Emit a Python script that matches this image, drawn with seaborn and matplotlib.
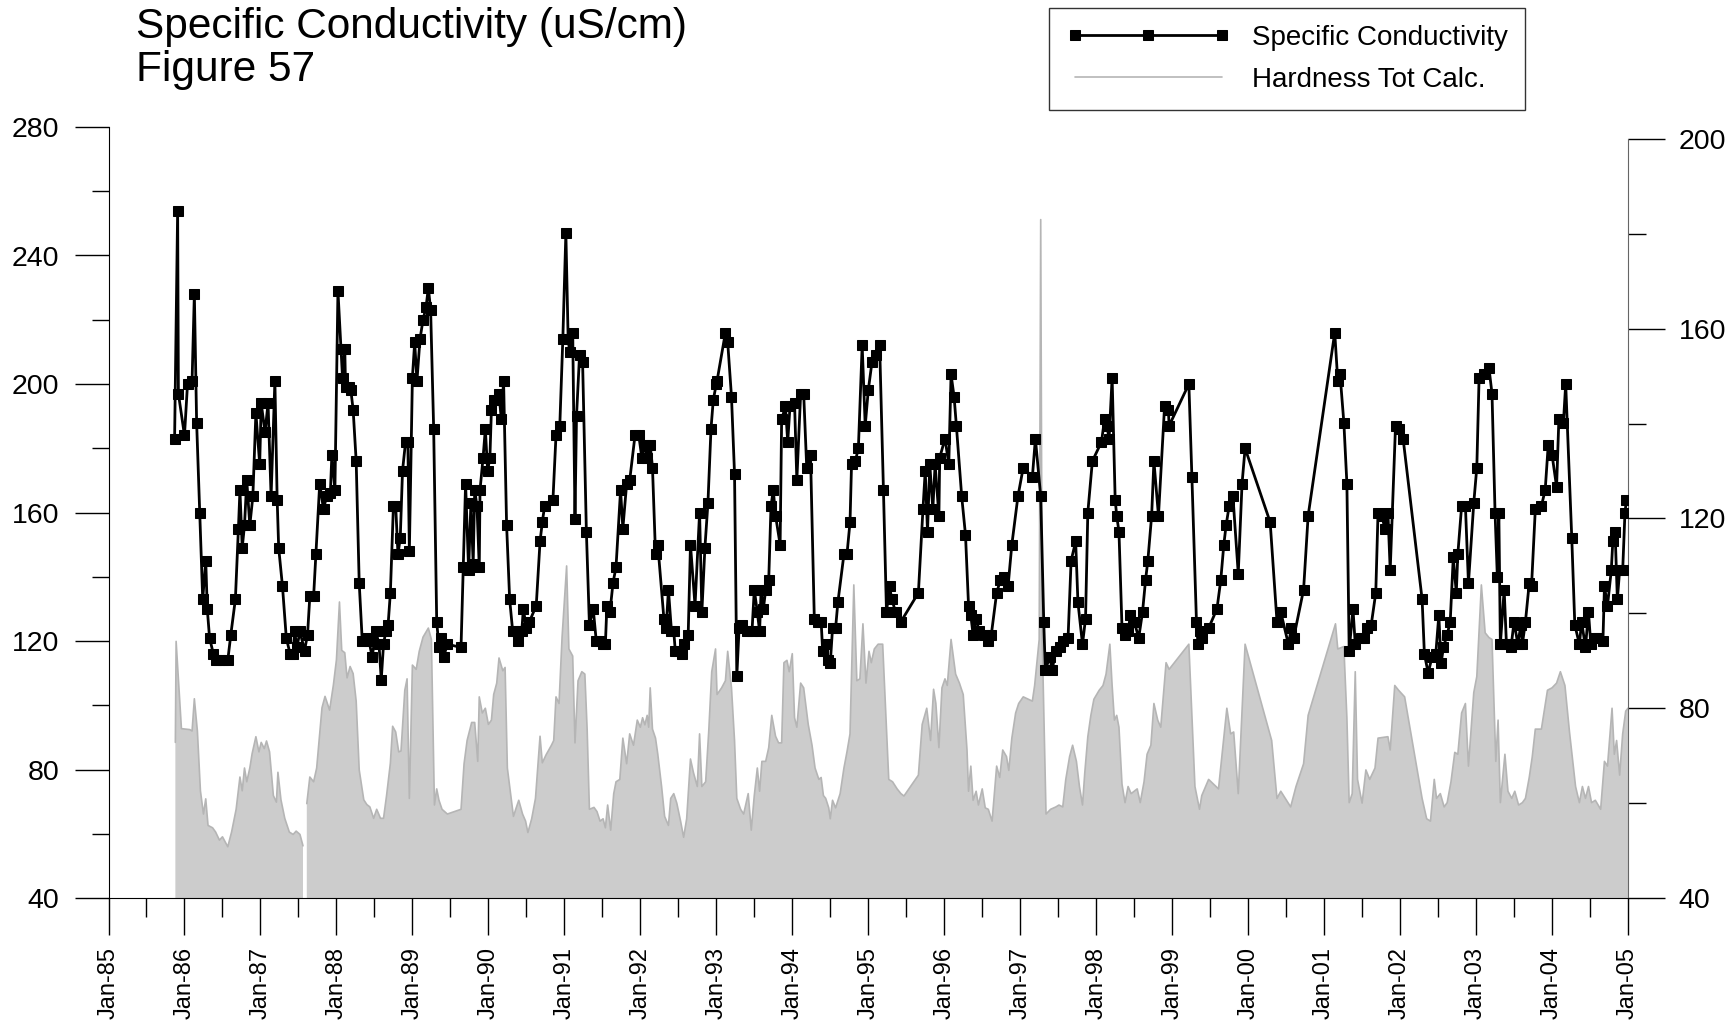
import numpy as np
import seaborn as sns
import matplotlib
matplotlib.use('Agg')
import matplotlib.pyplot as plt

# Specific conductivity (uS/cm), dates as decimal years
cond_years = [
    1985.87, 1985.91, 1985.92, 1986.00, 1986.04, 1986.10, 1986.13, 1986.16, 1986.20, 1986.24,
    1986.28, 1986.30, 1986.33, 1986.38, 1986.42, 1986.46, 1986.51, 1986.57, 1986.61, 1986.67,
    1986.71, 1986.73, 1986.76, 1986.79, 1986.82, 1986.86, 1986.90, 1986.94, 1986.99, 1987.01,
    1987.06, 1987.10, 1987.14, 1987.19, 1987.22, 1987.24, 1987.29, 1987.34, 1987.39, 1987.43,
    1987.45, 1987.48, 1987.52, 1987.58, 1987.62, 1987.65, 1987.70, 1987.73, 1987.78, 1987.83,
    1987.87, 1987.92, 1987.94, 1987.98, 1988.02, 1988.06, 1988.08, 1988.11, 1988.12, 1988.17,
    1988.19, 1988.22, 1988.26, 1988.30, 1988.34, 1988.39, 1988.43, 1988.47, 1988.52, 1988.56,
    1988.59, 1988.62, 1988.65, 1988.68, 1988.71, 1988.75, 1988.78, 1988.81, 1988.84, 1988.87,
    1988.91, 1988.94, 1988.96, 1989.00, 1989.03, 1989.06, 1989.10, 1989.14, 1989.18, 1989.21,
    1989.24, 1989.28, 1989.32, 1989.35, 1989.38, 1989.41, 1989.46, 1989.64, 1989.67, 1989.70,
    1989.74, 1989.77, 1989.80, 1989.82, 1989.85, 1989.88, 1989.89, 1989.93, 1989.96, 1989.99,
    1990.02, 1990.04, 1990.07, 1990.11, 1990.14, 1990.17, 1990.20, 1990.24, 1990.28, 1990.32,
    1990.36, 1990.39, 1990.44, 1990.46, 1990.50, 1990.54, 1990.63, 1990.68, 1990.71, 1990.74,
    1990.85, 1990.89, 1990.94, 1990.98, 1991.02, 1991.05, 1991.07, 1991.11, 1991.14, 1991.16,
    1991.20, 1991.24, 1991.29, 1991.33, 1991.38, 1991.42, 1991.47, 1991.51, 1991.54, 1991.56,
    1991.60, 1991.64, 1991.68, 1991.74, 1991.77, 1991.82, 1991.86, 1991.93, 1991.98, 1992.02,
    1992.06, 1992.09, 1992.13, 1992.16, 1992.20, 1992.23, 1992.31, 1992.34, 1992.37, 1992.41,
    1992.44, 1992.46, 1992.50, 1992.55, 1992.58, 1992.63, 1992.66, 1992.72, 1992.78, 1992.81,
    1992.85, 1992.89, 1992.93, 1992.96, 1993.00, 1993.01, 1993.12, 1993.15, 1993.20, 1993.24,
    1993.27, 1993.30, 1993.34, 1993.40, 1993.47, 1993.50, 1993.54, 1993.57, 1993.59, 1993.62,
    1993.65, 1993.69, 1993.72, 1993.75, 1993.78, 1993.84, 1993.86, 1993.91, 1993.94, 1993.97,
    1994.03, 1994.06, 1994.11, 1994.15, 1994.19, 1994.24, 1994.29, 1994.34, 1994.38, 1994.40,
    1994.44, 1994.47, 1994.50, 1994.53, 1994.57, 1994.60, 1994.68, 1994.72, 1994.76, 1994.78,
    1994.83, 1994.87, 1994.92, 1994.96, 1995.00, 1995.05, 1995.10, 1995.15, 1995.20, 1995.24,
    1995.28, 1995.31, 1995.36, 1995.43, 1995.66, 1995.72, 1995.75, 1995.78, 1995.81, 1995.85,
    1995.88, 1995.93, 1995.94, 1996.01, 1996.06, 1996.09, 1996.13, 1996.16, 1996.23, 1996.28,
    1996.32, 1996.35, 1996.38, 1996.42, 1996.46, 1996.53, 1996.57, 1996.62, 1996.69, 1996.74,
    1996.79, 1996.84, 1996.89, 1996.97, 1997.04, 1997.16, 1997.20, 1997.27, 1997.31, 1997.33,
    1997.39, 1997.42, 1997.47, 1997.53, 1997.56, 1997.63, 1997.67, 1997.73, 1997.76, 1997.82,
    1997.86, 1997.89, 1997.95, 1998.07, 1998.11, 1998.14, 1998.17, 1998.21, 1998.25, 1998.27,
    1998.30, 1998.34, 1998.38, 1998.42, 1998.45, 1998.50, 1998.56, 1998.61, 1998.65, 1998.68,
    1998.73, 1998.76, 1998.82, 1998.90, 1998.95, 1998.96, 1999.22, 1999.26, 1999.32, 1999.34,
    1999.37, 1999.39, 1999.48, 1999.59, 1999.64, 1999.68, 1999.71, 1999.75, 1999.80, 1999.87,
    1999.92, 1999.96, 2000.29, 2000.38, 2000.43, 2000.53, 2000.57, 2000.60, 2000.73, 2000.79,
    2001.14, 2001.18, 2001.21, 2001.26, 2001.30, 2001.33, 2001.38, 2001.41, 2001.48, 2001.52,
    2001.57, 2001.62, 2001.68, 2001.71, 2001.76, 2001.80, 2001.84, 2001.87, 2001.94, 2001.99,
    2002.04, 2002.29, 2002.32, 2002.37, 2002.42, 2002.47, 2002.51, 2002.54, 2002.57, 2002.62,
    2002.66, 2002.70, 2002.74, 2002.76, 2002.81, 2002.86, 2002.90, 2002.97, 2003.01, 2003.04,
    2003.10, 2003.17, 2003.21, 2003.25, 2003.28, 2003.30, 2003.32, 2003.37, 2003.40, 2003.43,
    2003.46, 2003.50, 2003.55, 2003.59, 2003.61, 2003.65, 2003.70, 2003.73, 2003.78, 2003.86,
    2003.91, 2003.95, 2004.00, 2004.06, 2004.09, 2004.15, 2004.18, 2004.26, 2004.30, 2004.36,
    2004.39, 2004.44, 2004.48, 2004.51, 2004.56, 2004.60, 2004.67, 2004.69, 2004.73, 2004.78,
    2004.80, 2004.83, 2004.86, 2004.89, 2004.93, 2004.96, 2004.98,
]
cond_values = [
    183, 254, 197, 184, 200, 201, 228, 188, 160, 133,
    145, 130, 121, 116, 114, 114, 114, 114, 122, 133,
    155, 167, 149, 156, 170, 156, 165, 191, 175, 194,
    185, 194, 165, 201, 164, 149, 137, 121, 116, 116,
    123, 118, 123, 117, 122, 134, 134, 147, 169, 161,
    165, 166, 178, 167, 229, 211, 202, 211, 199, 199,
    198, 192, 176, 138, 120, 121, 120, 115, 123, 119,
    108, 119, 123, 125, 135, 162, 162, 147, 152, 173,
    182, 182, 148, 202, 213, 201, 214, 220, 224, 230,
    223, 186, 126, 118, 121, 115, 119, 118, 143, 169,
    142, 163, 144, 167, 162, 143, 167, 177, 186, 173,
    177, 192, 195, 195, 197, 189, 201, 156, 133, 123,
    123, 120, 123, 130, 124, 126, 131, 151, 157, 162,
    164, 184, 187, 214, 247, 214, 210, 216, 158, 190,
    209, 207, 154, 125, 130, 120, 120, 119, 119, 131,
    129, 138, 143, 167, 155, 169, 170, 184, 184, 177,
    181, 177, 181, 174, 147, 150, 127, 124, 136, 123,
    123, 117, 117, 116, 119, 122, 150, 131, 160, 129,
    149, 163, 186, 195, 200, 201, 216, 213, 196, 172,
    109, 124, 125, 123, 123, 136, 129, 123, 136, 130,
    136, 139, 162, 167, 159, 150, 189, 193, 182, 193,
    194, 170, 197, 197, 174, 178, 127, 126, 126, 117,
    119, 114, 113, 124, 124, 132, 147, 147, 157, 175,
    176, 180, 212, 187, 198, 207, 209, 212, 167, 129,
    137, 133, 129, 126, 135, 161, 173, 154, 175, 161,
    175, 159, 177, 183, 175, 203, 196, 187, 165, 153,
    131, 128, 122, 127, 123, 122, 120, 122, 135, 139,
    140, 137, 150, 165, 174, 171, 183, 165, 126, 111,
    115, 111, 117, 118, 120, 121, 145, 151, 132, 119,
    127, 160, 176, 182, 189, 187, 183, 202, 164, 159,
    154, 124, 122, 123, 128, 126, 121, 129, 139, 145,
    159, 176, 159, 193, 192, 187, 200, 171, 126, 119,
    123, 121, 124, 130, 139, 150, 156, 162, 165, 141,
    169, 180, 157, 126, 129, 119, 124, 121, 136, 159,
    216, 201, 203, 188, 169, 117, 130, 119, 121, 121,
    124, 125, 135, 160, 159, 155, 160, 142, 187, 186,
    183, 133, 116, 110, 115, 116, 128, 113, 118, 122,
    126, 146, 135, 147, 162, 162, 138, 163, 174, 202,
    203, 205, 197, 160, 140, 160, 119, 136, 119, 119,
    118, 126, 119, 125, 119, 126, 138, 137, 161, 162,
    167, 181, 178, 168, 189, 188, 200, 152, 125, 119,
    126, 118, 129, 119, 121, 121, 120, 137, 131, 142,
    151, 154, 133, 142, 142, 160, 164,
]

# Total hardness (calculated), right axis; NaN marks the break in the record
hard_years = [
    1985.88, 1985.89, 1985.96, 1986.07, 1986.10, 1986.13, 1986.17, 1986.21, 1986.25, 1986.28,
    1986.31, 1986.37, 1986.41, 1986.46, 1986.50, 1986.57, 1986.62, 1986.68, 1986.73, 1986.76,
    1986.79, 1986.82, 1986.86, 1986.89, 1986.94, 1986.98, 1987.01, 1987.05, 1987.08, 1987.12,
    1987.17, 1987.21, 1987.23, 1987.27, 1987.32, 1987.38, 1987.43, 1987.47, 1987.52, 1987.56,
    1987.585,
    1987.61, 1987.65, 1987.70, 1987.74, 1987.81, 1987.85, 1987.91, 1987.96, 1988.00, 1988.04,
    1988.07, 1988.11, 1988.14, 1988.18, 1988.22, 1988.26, 1988.30, 1988.36, 1988.40, 1988.44,
    1988.49, 1988.53, 1988.58, 1988.62, 1988.66, 1988.71, 1988.74, 1988.78, 1988.82, 1988.85,
    1988.90, 1988.93, 1988.96, 1989.00, 1989.05, 1989.09, 1989.14, 1989.21, 1989.25, 1989.29,
    1989.32, 1989.35, 1989.39, 1989.46, 1989.64, 1989.68, 1989.72, 1989.78, 1989.82, 1989.86,
    1989.88, 1989.92, 1989.96, 1990.00, 1990.04, 1990.07, 1990.11, 1990.14, 1990.19, 1990.22,
    1990.25, 1990.33, 1990.36, 1990.40, 1990.45, 1990.49, 1990.52, 1990.57, 1990.62, 1990.68,
    1990.71, 1990.76, 1990.83, 1990.86, 1990.89, 1990.93, 1990.97, 1991.03, 1991.06, 1991.11,
    1991.14, 1991.18, 1991.23, 1991.27, 1991.30, 1991.33, 1991.39, 1991.43, 1991.47, 1991.51,
    1991.54, 1991.57, 1991.61, 1991.65, 1991.68, 1991.73, 1991.77, 1991.82, 1991.86, 1991.91,
    1991.96, 1992.00, 1992.03, 1992.06, 1992.09, 1992.11, 1992.13, 1992.16, 1992.20, 1992.23,
    1992.28, 1992.32, 1992.37, 1992.40, 1992.44, 1992.48, 1992.53, 1992.57, 1992.61, 1992.66,
    1992.70, 1992.75, 1992.78, 1992.81, 1992.86, 1992.90, 1992.94, 1992.99, 1993.01, 1993.07,
    1993.12, 1993.15, 1993.20, 1993.24, 1993.27, 1993.32, 1993.36, 1993.42, 1993.46, 1993.50,
    1993.54, 1993.57, 1993.60, 1993.65, 1993.69, 1993.73, 1993.78, 1993.82, 1993.86, 1993.89,
    1993.93, 1993.96, 1994.00, 1994.03, 1994.06, 1994.11, 1994.15, 1994.21, 1994.26, 1994.30,
    1994.35, 1994.38, 1994.41, 1994.44, 1994.48, 1994.50, 1994.53, 1994.57, 1994.63, 1994.68,
    1994.72, 1994.76, 1994.81, 1994.85, 1994.89, 1994.93, 1994.97, 1995.01, 1995.04, 1995.08,
    1995.13, 1995.19, 1995.27, 1995.32, 1995.38, 1995.43, 1995.47, 1995.66, 1995.71, 1995.77,
    1995.82, 1995.86, 1995.89, 1995.93, 1995.97, 1996.01, 1996.04, 1996.09, 1996.15, 1996.20,
    1996.25, 1996.30, 1996.32, 1996.35, 1996.38, 1996.42, 1996.45, 1996.50, 1996.54, 1996.58,
    1996.63, 1996.69, 1996.73, 1996.77, 1996.82, 1996.85, 1996.89, 1996.94, 1996.98, 1997.04,
    1997.16, 1997.19, 1997.25, 1997.27, 1997.29, 1997.34, 1997.40, 1997.47, 1997.51, 1997.56,
    1997.60, 1997.65, 1997.69, 1997.74, 1997.78, 1997.82, 1997.85, 1997.89, 1997.93, 1997.97,
    1998.04, 1998.09, 1998.13, 1998.18, 1998.21, 1998.24, 1998.27, 1998.30, 1998.34, 1998.38,
    1998.42, 1998.46, 1998.50, 1998.54, 1998.58, 1998.63, 1998.67, 1998.72, 1998.76, 1998.81,
    1998.85, 1998.92, 1998.96, 1999.22, 1999.30, 1999.36, 1999.39, 1999.48, 1999.61, 1999.67,
    1999.72, 1999.77, 1999.81, 1999.87, 1999.96, 2000.31, 2000.38, 2000.43, 2000.56, 2000.63,
    2000.73, 2000.79, 2001.15, 2001.18, 2001.26, 2001.30, 2001.33, 2001.37, 2001.41, 2001.44,
    2001.50, 2001.55, 2001.60, 2001.67, 2001.71, 2001.84, 2001.87, 2001.93, 2001.98, 2002.06,
    2002.29, 2002.35, 2002.40, 2002.45, 2002.48, 2002.53, 2002.58, 2002.62, 2002.67, 2002.72,
    2002.76, 2002.81, 2002.86, 2002.90, 2002.97, 2003.01, 2003.07, 2003.12, 2003.17, 2003.21,
    2003.26, 2003.29, 2003.32, 2003.38, 2003.42, 2003.47, 2003.51, 2003.56, 2003.61, 2003.65,
    2003.70, 2003.74, 2003.78, 2003.86, 2003.94, 2004.00, 2004.06, 2004.11, 2004.17, 2004.23,
    2004.31, 2004.36, 2004.40, 2004.44, 2004.48, 2004.52, 2004.57, 2004.64, 2004.69, 2004.73,
    2004.79, 2004.82, 2004.85, 2004.89, 2004.93, 2004.97, 2005.00,
]
hard_values = [
    72.8, 94.1, 75.7, 75.5, 75.2, 82.0, 75.2, 62.6, 57.7, 60.9,
    55.3, 54.8, 53.9, 52.2, 52.9, 50.8, 53.9, 58.7, 65.5, 62.6,
    67.4, 64.5, 67.4, 70.4, 74.0, 70.8, 72.8, 71.5, 73.1, 70.8,
    61.6, 60.2, 66.5, 60.7, 56.8, 53.9, 53.4, 54.1, 53.4, 51.0,
    np.nan,
    59.9, 65.5, 64.5, 67.4, 80.1, 82.5, 79.6, 84.9, 90.2, 102.4,
    92.2, 91.7, 86.4, 88.8, 87.3, 81.5, 67.0, 60.7, 59.7, 59.2,
    56.8, 58.7, 56.8, 56.8, 61.6, 68.4, 76.2, 75.0, 70.8, 71.0,
    83.8, 86.2, 61.0, 89.1, 88.2, 92.0, 95.0, 96.9, 94.5, 59.6,
    63.0, 60.6, 58.7, 57.7, 58.7, 68.3, 73.2, 77.0, 77.0, 68.8,
    82.4, 79.0, 80.0, 76.6, 77.5, 82.9, 85.3, 90.6, 87.9, 88.6,
    67.4, 57.2, 58.7, 60.6, 57.7, 56.2, 53.8, 56.7, 61.0, 74.1,
    68.5, 70.2, 72.2, 73.2, 82.4, 81.0, 95.0, 110.0, 92.5, 91.0,
    72.7, 85.8, 87.7, 87.2, 75.6, 58.7, 59.1, 58.2, 56.2, 56.7,
    54.8, 59.6, 54.3, 62.0, 64.5, 65.0, 73.7, 68.3, 74.6, 72.2,
    77.5, 76.0, 78.0, 76.5, 78.5, 76.0, 84.3, 75.6, 73.7, 70.3,
    63.5, 57.2, 55.3, 61.0, 62.0, 60.0, 56.2, 52.8, 56.7, 69.3,
    66.4, 63.5, 74.6, 63.5, 64.5, 75.0, 87.7, 92.5, 82.9, 84.3,
    85.8, 92.0, 84.3, 73.2, 61.0, 58.7, 57.7, 62.0, 54.3, 61.6,
    67.4, 62.5, 68.8, 68.8, 71.7, 78.5, 74.1, 72.7, 72.7, 89.6,
    90.1, 87.7, 91.5, 78.0, 76.0, 85.3, 84.3, 76.6, 72.2, 67.4,
    65.0, 65.4, 61.6, 61.0, 59.0, 56.7, 60.6, 59.0, 62.0, 67.4,
    70.8, 74.6, 106.0, 85.8, 86.2, 97.8, 85.3, 92.0, 89.6, 92.5,
    93.5, 93.5, 65.0, 64.5, 63.0, 62.0, 61.5, 65.9, 76.6, 80.0,
    73.2, 84.0, 81.0, 71.7, 84.3, 86.2, 84.8, 94.5, 87.2, 85.3,
    82.9, 71.2, 62.5, 67.8, 60.6, 62.5, 59.6, 63.0, 59.0, 58.7,
    56.2, 67.8, 65.4, 71.2, 69.8, 66.9, 73.7, 79.0, 81.0, 82.4,
    81.5, 84.8, 94.5, 183.0, 94.5, 57.7, 58.7, 59.2, 59.6, 59.2,
    65.0, 69.8, 72.2, 68.8, 63.5, 59.6, 66.4, 74.0, 78.5, 81.9,
    83.8, 84.8, 87.2, 93.5, 84.8, 77.5, 78.5, 76.0, 64.0, 60.1,
    63.5, 62.0, 62.5, 63.0, 60.1, 64.5, 70.3, 72.2, 81.0, 77.5,
    76.0, 89.6, 88.2, 93.5, 63.5, 58.7, 61.6, 65.0, 63.0, 72.2,
    80.0, 74.6, 75.0, 62.0, 93.5, 73.2, 61.0, 62.5, 59.2, 63.5,
    68.3, 78.5, 97.8, 92.5, 93.0, 78.0, 60.1, 62.0, 87.7, 65.0,
    60.0, 67.0, 65.0, 67.4, 73.7, 74.0, 71.2, 84.8, 83.8, 82.4,
    61.0, 56.7, 56.2, 65.0, 61.0, 62.0, 59.2, 60.1, 64.5, 70.7,
    70.3, 79.0, 81.0, 67.8, 83.3, 86.7, 106.0, 95.9, 94.9, 94.5,
    68.8, 77.5, 60.1, 70.3, 62.5, 61.0, 62.5, 59.6, 60.1, 61.0,
    65.4, 69.8, 75.6, 75.6, 83.8, 84.3, 85.3, 87.7, 84.8, 75.0,
    63.5, 60.1, 63.5, 61.0, 63.5, 60.1, 60.6, 58.7, 68.8, 67.8,
    80.0, 70.3, 73.2, 65.9, 74.6, 79.4, 80.0,
]

year_ticks = list(range(1985, 2006))
year_labels = ['Jan-85', 'Jan-86', 'Jan-87', 'Jan-88', 'Jan-89', 'Jan-90', 'Jan-91',
               'Jan-92', 'Jan-93', 'Jan-94', 'Jan-95', 'Jan-96', 'Jan-97', 'Jan-98',
               'Jan-99', 'Jan-00', 'Jan-01', 'Jan-02', 'Jan-03', 'Jan-04', 'Jan-05']

sns.set_style('ticks')
plt.rcParams['font.family'] = ['Liberation Sans', 'DejaVu Sans']
plt.rcParams['text.color'] = 'black'
plt.rcParams['xtick.color'] = 'black'
plt.rcParams['ytick.color'] = 'black'
plt.rcParams['axes.edgecolor'] = 'black'

W, H = 1732, 1021
fig = plt.figure(figsize=(W / 100, H / 100), dpi=100)
ax = fig.add_axes([108.5 / W, 123 / H, (1628 - 108.5) / W, 771 / H])
ax2 = ax.twinx()
ax.set_zorder(ax2.get_zorder() + 1)
ax.patch.set_visible(False)

# Hardness: grey filled area on right axis
hy = np.array(hard_years)
hv = np.array(hard_values)
ax2.fill_between(hy, 40, hv, color='#cccccc', lw=0)
gap = np.where(np.isnan(hv))[0][0]
for sl in (slice(0, gap), slice(gap + 1, None)):
    sns.lineplot(x=hy[sl], y=hv[sl], ax=ax2, color='#b5b5b5', lw=1.2,
                 estimator=None, sort=False)

# Conductivity: black line with square markers
sns.lineplot(x=cond_years, y=cond_values, ax=ax, color='black', lw=2,
             marker='s', markersize=6.5, markeredgecolor='black',
             estimator=None, sort=False)

ax.set_xlim(1985, 2005)
ax.set_ylim(40, 280)
ax2.set_ylim(40, 40 + 771 / 4.744)

ax.set_xticks(year_ticks)
ax.set_xticklabels(year_labels, rotation=90, fontsize=17)
ax.set_xticks(np.arange(1985.5, 2005, 1), minor=True)
ax.set_yticks(np.arange(40, 281, 40))
ax.set_yticks(np.arange(60, 270, 40), minor=True)
ax.tick_params(axis='y', which='major', length=24.5, width=1, labelsize=20.5, pad=11)
ax.tick_params(axis='y', which='minor', length=12, width=1)
ax.tick_params(axis='x', which='major', length=26.5, width=1, pad=9)
ax.tick_params(axis='x', which='minor', length=13.5, width=1)

ax2.set_yticks(np.arange(40, 201, 40))
ax2.set_yticks(np.arange(60, 190, 40), minor=True)
ax2.tick_params(axis='y', which='major', length=26.5, width=1, labelsize=20.5, pad=10)
ax2.tick_params(axis='y', which='minor', length=13, width=1)

for a in (ax, ax2):
    a.set_xlabel('')
    a.set_ylabel('')
    a.spines['top'].set_visible(False)
ax.spines['right'].set_visible(False)
ax2.spines['left'].set_visible(False)
ax2.spines['bottom'].set_visible(False)
ax2.spines['right'].set_bounds(40, 200)
ax2.spines['right'].set_color('#666666')

fig.text(136 / W, 1 - 7 / H, 'Specific Conductivity (uS/cm)\nFigure 57',
         fontsize=30.5, ha='left', va='top', linespacing=1.1, color='black')

handles = [ax.lines[0], ax2.lines[0]]
leg = fig.legend(handles, ['Specific Conductivity', 'Hardness Tot Calc.'],
                 loc='upper left', bbox_to_anchor=(1049 / W, 1 - 8 / H),
                 fontsize=20, handlelength=5.9, numpoints=3, handletextpad=0.8,
                 borderpad=0.62, labelspacing=0.55, borderaxespad=0,
                 frameon=True, fancybox=False, framealpha=1, edgecolor='#333333')
leg.get_frame().set_linewidth(1)
for t in leg.get_texts():
    t.set_color('black')

fig.savefig('out.png', dpi=100)
